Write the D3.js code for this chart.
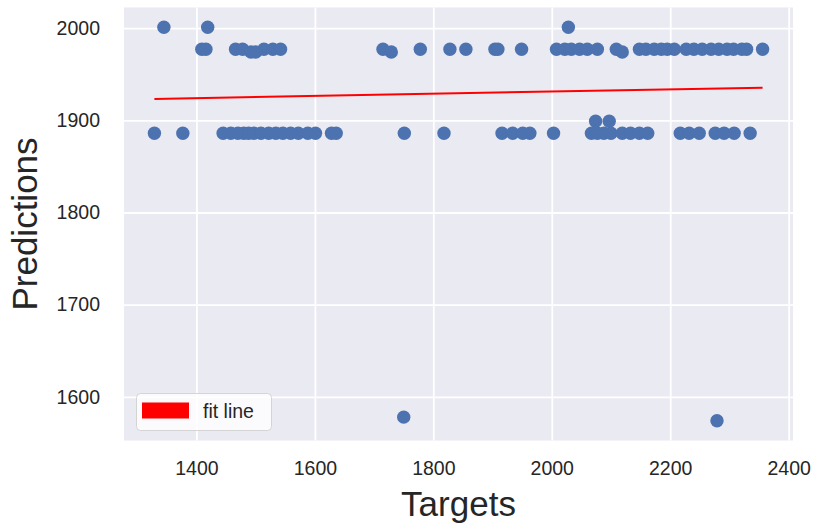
<!DOCTYPE html>
<html>
<head>
<meta charset="utf-8">
<script src="https://cdn.jsdelivr.net/npm/d3@7"></script>
<style>
  html, body { margin: 0; padding: 0; background: #ffffff; }
  svg { display: block; }
  text { font-family: "Liberation Sans", Arial, sans-serif; }
</style>
</head>
<body>
<svg id="chart" width="814" height="528"></svg>
<script>
// ---- Data ----
const rowTop2001X = [1345, 1419, 2028];
const rowTop2001Y = 2001;

const row1977X = [1409, 1416, 1466, 1478, 1514, 1529, 1542, 1715, 1778, 1828, 1855, 1904, 1909,
  1949, 2008, 2022, 2033, 2047, 2060, 2077, 2109, 2148, 2159, 2173, 2185, 2195, 2207, 2227,
  2240, 2254, 2269, 2282, 2296, 2307, 2321, 2329, 2356];
const row1977Y = 1977;

const row1974X = [1492, 1500, 1729, 2119];
const row1974Y = 1974;

const row1899X = [2074, 2097];
const row1899Y = 1899;

const row1886X = [1329, 1377, 1445, 1458, 1470, 1480, 1488, 1497, 1509, 1522, 1534, 1546, 1559,
  1572, 1588, 1601, 1628, 1636, 1751, 1818, 1916, 1934, 1951, 1963, 2003, 2067, 2077, 2088,
  2100, 2119, 2133, 2148, 2162, 2217, 2232, 2249, 2276, 2291, 2308, 2335];
const row1886Y = 1886;

const outlierX = [1750, 2279];
const outlierY = [1578, 1574];

// fit line endpoints (targets, predictions)
const fitX = [1329, 2356];
const fitY = [1923.2, 1935.4];

const xTicks = [1400, 1600, 1800, 2000, 2200, 2400];
const yTicks = [1600, 1700, 1800, 1900, 2000];
const xLabel = "Targets";
const yLabel = "Predictions";
const legendLabel = "fit line";

// ---- Build point table ----
const points = [];
rowTop2001X.forEach(x => points.push({x, y: rowTop2001Y}));
row1977X.forEach(x => points.push({x, y: row1977Y}));
row1974X.forEach(x => points.push({x, y: row1974Y}));
row1899X.forEach(x => points.push({x, y: row1899Y}));
row1886X.forEach(x => points.push({x, y: row1886Y}));
outlierX.forEach((x, i) => points.push({x, y: outlierY[i]}));

// ---- Layout ----
const svg = d3.select("#chart");
const plot = {left: 124, right: 793, top: 7.5, bottom: 440.5};

const xExt = d3.extent(points, d => d.x);
const yExt = d3.extent(points, d => d.y);
const xm = (xExt[1] - xExt[0]) * 0.05;
const ym = (yExt[1] - yExt[0]) * 0.05;

const x = d3.scaleLinear().domain([xExt[0] - xm, xExt[1] + xm]).range([plot.left, plot.right]);
const y = d3.scaleLinear().domain([yExt[0] - ym, yExt[1] + ym]).range([plot.bottom, plot.top]);

// background
svg.append("rect")
  .attr("x", plot.left).attr("y", plot.top)
  .attr("width", plot.right - plot.left).attr("height", plot.bottom - plot.top)
  .attr("fill", "#EAEAF2");

// grid lines via axes
const gx = svg.append("g")
  .attr("transform", `translate(0,${plot.bottom})`)
  .call(d3.axisBottom(x).tickValues(xTicks).tickSize(-(plot.bottom - plot.top)).tickFormat(""));
gx.select(".domain").remove();
gx.selectAll("line").attr("stroke", "#ffffff").attr("stroke-width", 1.8);

const gy = svg.append("g")
  .attr("transform", `translate(${plot.left},0)`)
  .call(d3.axisLeft(y).tickValues(yTicks).tickSize(-(plot.right - plot.left)).tickFormat(""));
gy.select(".domain").remove();
gy.selectAll("line").attr("stroke", "#ffffff").attr("stroke-width", 1.8);

// tick labels via axes
const ax = svg.append("g")
  .attr("transform", `translate(0,${plot.bottom})`)
  .call(d3.axisBottom(x).tickValues(xTicks).tickSize(0).tickPadding(21).tickFormat(d3.format("d")));
ax.select(".domain").remove();
ax.selectAll("text")
  .attr("font-family", "'Liberation Sans', Arial, sans-serif")
  .attr("font-size", "19.5px").attr("fill", "#262626");

const ay = svg.append("g")
  .attr("transform", `translate(${plot.left},0)`)
  .call(d3.axisLeft(y).tickValues(yTicks).tickSize(0).tickPadding(24).tickFormat(d3.format("d")));
ay.select(".domain").remove();
ay.selectAll("text")
  .attr("font-family", "'Liberation Sans', Arial, sans-serif")
  .attr("font-size", "19.5px").attr("fill", "#262626");

// scatter points
svg.append("g").selectAll("circle")
  .data(points).enter().append("circle")
  .attr("cx", d => x(d.x)).attr("cy", d => y(d.y))
  .attr("r", 6.7)
  .attr("fill", "#4C72B0");

// fit line
const line = d3.line().x(d => x(d[0])).y(d => y(d[1]));
svg.append("path")
  .datum(fitX.map((v, i) => [v, fitY[i]]))
  .attr("d", line)
  .attr("fill", "none")
  .attr("stroke", "#ff0000")
  .attr("stroke-width", 2);

// axis labels
svg.append("text")
  .attr("x", (plot.left + plot.right) / 2).attr("y", 516)
  .attr("text-anchor", "middle")
  .attr("font-size", "35px").attr("fill", "#262626")
  .text(xLabel);

svg.append("text")
  .attr("transform", `translate(37,${(plot.top + plot.bottom) / 2}) rotate(-90)`)
  .attr("text-anchor", "middle")
  .attr("font-size", "35px").attr("fill", "#262626")
  .text(yLabel);

// legend
const lg = svg.append("g");
lg.append("rect")
  .attr("x", 136.5).attr("y", 393.5).attr("width", 135).attr("height", 37)
  .attr("rx", 4).attr("ry", 4)
  .attr("fill", "#ffffff").attr("fill-opacity", 0.8)
  .attr("stroke", "#cccccc").attr("stroke-opacity", 0.8).attr("stroke-width", 1);
lg.append("rect")
  .attr("x", 142).attr("y", 402.5).attr("width", 47).attr("height", 16)
  .attr("fill", "#ff0000");
lg.append("text")
  .attr("x", 203).attr("y", 418)
  .attr("font-size", "19.5px").attr("fill", "#262626")
  .text(legendLabel);
</script>
</body>
</html>
